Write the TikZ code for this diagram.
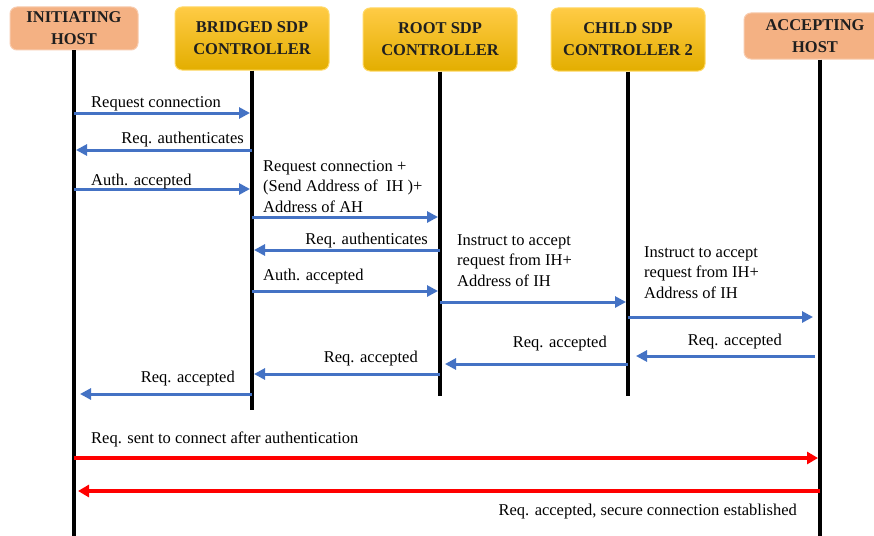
\documentclass[tikz,border=0pt]{standalone}
\usepackage{fontspec}
\setmainfont{Liberation Serif}
\usetikzlibrary{arrows.meta}

\definecolor{msgblue}{HTML}{4472C4}
\definecolor{hostfill}{HTML}{F4B183}
\definecolor{hostedge}{HTML}{F8CBAD}
\definecolor{goldtop}{HTML}{FFCB45}
\definecolor{goldmid}{HTML}{FFC000}
\definecolor{goldbot}{HTML}{E3AE00}
\definecolor{goldedge}{HTML}{FFD966}

\begin{document}
\begin{tikzpicture}[x=1pt,y=-1pt,
  actor/.style={rounded corners=7pt, align=center,
    font=\fontsize{16.5}{22}\selectfont\bfseries, text=black!88, inner sep=0pt},
  hostbox/.style={actor, fill=hostfill, draw=hostedge, line width=1pt},
  ctrlbox/.style={actor, draw=goldedge, line width=1pt,
    top color=goldtop, middle color=goldmid, bottom color=goldbot,
    minimum width=154pt, minimum height=63pt},
  lifeline/.style={line width=3.5pt, black},
  msg/.style={line width=3pt, msgblue, -{Triangle[length=11pt,width=11pt]}, shorten >=2pt},
  final/.style={line width=4pt, red, -{Triangle[length=11pt,width=12pt]}, shorten >=2pt},
  lbl/.style={font=\fontsize{16.5}{20.5}\selectfont, inner sep=0pt, align=left},
]
\fill[white] (0,0) rectangle (874,535);
\useasboundingbox (0,0) rectangle (874,535);

% participants
\node[hostbox, minimum width=128pt, minimum height=43pt] (ih) at (74,28.5) {INITIATING\\HOST};
\node[ctrlbox] (br) at (252,38.5) {BRIDGED SDP\\CONTROLLER};
\node[ctrlbox] (rt) at (440,39.5) {ROOT SDP\\CONTROLLER};
\node[ctrlbox] (ch) at (628,39.5) {CHILD SDP\\CONTROLLER 2};
\node[hostbox, minimum width=142pt, minimum height=46pt] (ah) at (815,36) {ACCEPTING\\HOST};

% lifeline ends
\coordinate (ihEnd) at (74,540);
\coordinate (brEnd) at (252,410);
\coordinate (rtEnd) at (440,396);
\coordinate (chEnd) at (628,396);
\coordinate (ahEnd) at (820,540);

\draw[lifeline] (ih.south) -- (ihEnd);
\draw[lifeline] (br.south) -- (brEnd);
\draw[lifeline] (rt.south) -- (rtEnd);
\draw[lifeline] (ch.south) -- (chEnd);
\draw[lifeline] (ah.south -| ahEnd) -- (ahEnd);

% message rows
\coordinate (m1) at (0,113);
\coordinate (m2) at (0,150);
\coordinate (m3) at (0,189);
\coordinate (m4) at (0,217);
\coordinate (m5) at (0,250);
\coordinate (m6) at (0,291);
\coordinate (m7) at (0,302);
\coordinate (m8) at (0,317);
\coordinate (m9) at (0,356);
\coordinate (m10) at (0,364);
\coordinate (m11) at (0,374);
\coordinate (m12) at (0,394);
\coordinate (m13) at (0,458);
\coordinate (m14) at (0,491);

\draw[msg] (ih |- m1) -- (br |- m1);
\draw[msg] (br |- m2) -- (ih |- m2);
\draw[msg] (ih |- m3) -- (br |- m3);
\draw[msg] (br |- m4) -- (rt |- m4);
\draw[msg] (rt |- m5) -- (br |- m5);
\draw[msg] (br |- m6) -- (rt |- m6);
\draw[msg] (rt |- m7) -- (ch |- m7);
\draw[msg, shorten >=7pt] (ch |- m8) -- (ahEnd |- m8);
\draw[msg, shorten <=5pt, shorten >=8pt] (ahEnd |- m9) -- (ch |- m9);
\draw[msg, shorten >=5pt] (ch |- m10) -- (rt |- m10);
\draw[msg] (rt |- m11) -- (br |- m11);
\draw[msg, shorten >=6pt] (br |- m12) -- (ih |- m12);
\draw[final] (ih |- m13) -- (ahEnd |- m13);
\draw[final, shorten >=4pt] (ahEnd |- m14) -- (ih |- m14);

% message labels (base = baseline of the last line)
\node[lbl, anchor=base west] (t1) at (91,107) {Request connection};
\node[lbl, anchor=base east] (t2) at (244,143) {Req. authenticates};
\node[lbl, anchor=base west] (t3) at (91,185) {Auth. accepted};
\node[lbl, anchor=base west] (t4) at (263,212) {Request connection +\\(Send Address of~ IH )+\\Address of AH};
\node[lbl, anchor=base east] (t5) at (428,244) {Req. authenticates};
\node[lbl, anchor=base west] (t6) at (263,280) {Auth. accepted};
\node[lbl, anchor=base west] (t7) at (457,286) {Instruct to accept\\request from IH+\\Address of IH};
\node[lbl, anchor=base west] (t8) at (644,298) {Instruct to accept\\request from IH+\\Address of IH};
\node[lbl, anchor=base east] (t9) at (782,345) {Req. accepted};
\node[lbl, anchor=base east] (t10) at (607,347) {Req. accepted};
\node[lbl, anchor=base east] (t11) at (418,362) {Req. accepted};
\node[lbl, anchor=base east] (t12) at (235,382) {Req. accepted};
\node[lbl, anchor=base west] (t13) at (91,443) {Req. sent to connect after authentication};
\node[lbl, anchor=base east] (t14) at (797,515) {Req. accepted, secure connection established};
\end{tikzpicture}
\end{document}
